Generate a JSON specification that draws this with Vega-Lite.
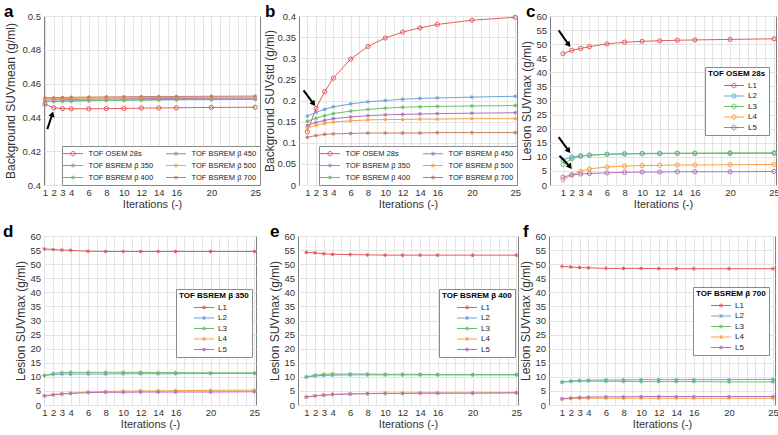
{
"$schema": "https://vega.github.io/schema/vega-lite/v6.json",
"padding": {"left": 2, "top": 2, "right": 0, "bottom": 0},
"background": "white",
"resolve": {"scale": {"x": "independent", "y": "independent", "color": "independent"}, "legend": {"color": "independent"}},
"config": {
 "font": "Liberation Sans",
 "view": {"stroke": "#7f7f7f", "strokeWidth": 1},
 "axis": {"domain": false, "ticks": false, "grid": true, "gridColor": "#e4e4e4", "gridWidth": 1, "labelFont": "Liberation Sans", "labelFontSize": 9.5, "labelColor": "#333333", "titleFont": "Liberation Sans", "titleFontWeight": "normal", "titleColor": "#333333"},
 "axisX": {"titleFontSize": 11, "labelPadding": 2, "titlePadding": 2},
 "axisY": {"titleFontSize": 12, "labelPadding": 3.5},
 "title": {"fontSize": 17, "fontWeight": "bold", "anchor": "start", "frame": "group", "offset": -10, "color": "#000000"},
 "legend": {"labelFont": "Liberation Sans", "titleFont": "Liberation Sans", "labelColor": "#222222", "strokeColor": "#8a8a8a", "fillColor": "white", "padding": 3, "symbolStrokeWidth": 1, "symbolSize": 64, "labelLimit": 200, "cornerRadius": 0}
},
"datasets": {
 "a": [
  {"s":"TOF OSEM 28s","i":1,"v":0.4478},{"s":"TOF OSEM 28s","i":2,"v":0.4457},{"s":"TOF OSEM 28s","i":3,"v":0.4452},{"s":"TOF OSEM 28s","i":4,"v":0.4451},{"s":"TOF OSEM 28s","i":6,"v":0.4451},{"s":"TOF OSEM 28s","i":8,"v":0.4452},{"s":"TOF OSEM 28s","i":10,"v":0.4453},{"s":"TOF OSEM 28s","i":12,"v":0.4455},{"s":"TOF OSEM 28s","i":14,"v":0.4456},{"s":"TOF OSEM 28s","i":16,"v":0.4457},{"s":"TOF OSEM 28s","i":20,"v":0.4459},{"s":"TOF OSEM 28s","i":25,"v":0.4460},
  {"s":"TOF BSREM β 350","i":1,"v":0.4495},{"s":"TOF BSREM β 350","i":2,"v":0.4496},{"s":"TOF BSREM β 350","i":3,"v":0.4497},{"s":"TOF BSREM β 350","i":4,"v":0.4498},{"s":"TOF BSREM β 350","i":6,"v":0.4500},{"s":"TOF BSREM β 350","i":8,"v":0.4502},{"s":"TOF BSREM β 350","i":10,"v":0.4503},{"s":"TOF BSREM β 350","i":12,"v":0.4504},{"s":"TOF BSREM β 350","i":14,"v":0.4505},{"s":"TOF BSREM β 350","i":16,"v":0.4506},{"s":"TOF BSREM β 350","i":20,"v":0.4507},{"s":"TOF BSREM β 350","i":25,"v":0.4508},
  {"s":"TOF BSREM β 400","i":1,"v":0.4493},{"s":"TOF BSREM β 400","i":2,"v":0.4494},{"s":"TOF BSREM β 400","i":3,"v":0.4495},{"s":"TOF BSREM β 400","i":4,"v":0.4496},{"s":"TOF BSREM β 400","i":6,"v":0.4498},{"s":"TOF BSREM β 400","i":8,"v":0.4500},{"s":"TOF BSREM β 400","i":10,"v":0.4501},{"s":"TOF BSREM β 400","i":12,"v":0.4502},{"s":"TOF BSREM β 400","i":14,"v":0.4503},{"s":"TOF BSREM β 400","i":16,"v":0.4504},{"s":"TOF BSREM β 400","i":20,"v":0.4505},{"s":"TOF BSREM β 400","i":25,"v":0.4506},
  {"s":"TOF BSREM β 450","i":1,"v":0.4503},{"s":"TOF BSREM β 450","i":2,"v":0.4504},{"s":"TOF BSREM β 450","i":3,"v":0.4505},{"s":"TOF BSREM β 450","i":4,"v":0.4506},{"s":"TOF BSREM β 450","i":6,"v":0.4508},{"s":"TOF BSREM β 450","i":8,"v":0.4509},{"s":"TOF BSREM β 450","i":10,"v":0.4510},{"s":"TOF BSREM β 450","i":12,"v":0.4511},{"s":"TOF BSREM β 450","i":14,"v":0.4512},{"s":"TOF BSREM β 450","i":16,"v":0.4512},{"s":"TOF BSREM β 450","i":20,"v":0.4513},{"s":"TOF BSREM β 450","i":25,"v":0.4514},
  {"s":"TOF BSREM β 500","i":1,"v":0.4510},{"s":"TOF BSREM β 500","i":2,"v":0.4511},{"s":"TOF BSREM β 500","i":3,"v":0.4512},{"s":"TOF BSREM β 500","i":4,"v":0.4513},{"s":"TOF BSREM β 500","i":6,"v":0.4514},{"s":"TOF BSREM β 500","i":8,"v":0.4515},{"s":"TOF BSREM β 500","i":10,"v":0.4516},{"s":"TOF BSREM β 500","i":12,"v":0.4517},{"s":"TOF BSREM β 500","i":14,"v":0.4518},{"s":"TOF BSREM β 500","i":16,"v":0.4518},{"s":"TOF BSREM β 500","i":20,"v":0.4519},{"s":"TOF BSREM β 500","i":25,"v":0.4520},
  {"s":"TOF BSREM β 700","i":1,"v":0.4516},{"s":"TOF BSREM β 700","i":2,"v":0.4517},{"s":"TOF BSREM β 700","i":3,"v":0.4518},{"s":"TOF BSREM β 700","i":4,"v":0.4519},{"s":"TOF BSREM β 700","i":6,"v":0.4520},{"s":"TOF BSREM β 700","i":8,"v":0.4521},{"s":"TOF BSREM β 700","i":10,"v":0.4522},{"s":"TOF BSREM β 700","i":12,"v":0.4523},{"s":"TOF BSREM β 700","i":14,"v":0.4524},{"s":"TOF BSREM β 700","i":16,"v":0.4524},{"s":"TOF BSREM β 700","i":20,"v":0.4525},{"s":"TOF BSREM β 700","i":25,"v":0.4526}
 ],
 "b": [
  {"s":"TOF OSEM 28s","i":1,"v":0.126},{"s":"TOF OSEM 28s","i":2,"v":0.181},{"s":"TOF OSEM 28s","i":3,"v":0.221},{"s":"TOF OSEM 28s","i":4,"v":0.253},{"s":"TOF OSEM 28s","i":6,"v":0.298},{"s":"TOF OSEM 28s","i":8,"v":0.328},{"s":"TOF OSEM 28s","i":10,"v":0.348},{"s":"TOF OSEM 28s","i":12,"v":0.362},{"s":"TOF OSEM 28s","i":14,"v":0.372},{"s":"TOF OSEM 28s","i":16,"v":0.380},{"s":"TOF OSEM 28s","i":20,"v":0.390},{"s":"TOF OSEM 28s","i":25,"v":0.397},
  {"s":"TOF BSREM β 350","i":1,"v":0.163},{"s":"TOF BSREM β 350","i":2,"v":0.172},{"s":"TOF BSREM β 350","i":3,"v":0.179},{"s":"TOF BSREM β 350","i":4,"v":0.185},{"s":"TOF BSREM β 350","i":6,"v":0.192},{"s":"TOF BSREM β 350","i":8,"v":0.197},{"s":"TOF BSREM β 350","i":10,"v":0.200},{"s":"TOF BSREM β 350","i":12,"v":0.203},{"s":"TOF BSREM β 350","i":14,"v":0.205},{"s":"TOF BSREM β 350","i":16,"v":0.206},{"s":"TOF BSREM β 350","i":20,"v":0.208},{"s":"TOF BSREM β 350","i":25,"v":0.210},
  {"s":"TOF BSREM β 400","i":1,"v":0.151},{"s":"TOF BSREM β 400","i":2,"v":0.158},{"s":"TOF BSREM β 400","i":3,"v":0.164},{"s":"TOF BSREM β 400","i":4,"v":0.169},{"s":"TOF BSREM β 400","i":6,"v":0.175},{"s":"TOF BSREM β 400","i":8,"v":0.179},{"s":"TOF BSREM β 400","i":10,"v":0.182},{"s":"TOF BSREM β 400","i":12,"v":0.184},{"s":"TOF BSREM β 400","i":14,"v":0.185},{"s":"TOF BSREM β 400","i":16,"v":0.186},{"s":"TOF BSREM β 400","i":20,"v":0.187},{"s":"TOF BSREM β 400","i":25,"v":0.188},
  {"s":"TOF BSREM β 450","i":1,"v":0.141},{"s":"TOF BSREM β 450","i":2,"v":0.148},{"s":"TOF BSREM β 450","i":3,"v":0.153},{"s":"TOF BSREM β 450","i":4,"v":0.157},{"s":"TOF BSREM β 450","i":6,"v":0.161},{"s":"TOF BSREM β 450","i":8,"v":0.164},{"s":"TOF BSREM β 450","i":10,"v":0.166},{"s":"TOF BSREM β 450","i":12,"v":0.167},{"s":"TOF BSREM β 450","i":14,"v":0.168},{"s":"TOF BSREM β 450","i":16,"v":0.169},{"s":"TOF BSREM β 450","i":20,"v":0.170},{"s":"TOF BSREM β 450","i":25,"v":0.171},
  {"s":"TOF BSREM β 500","i":1,"v":0.135},{"s":"TOF BSREM β 500","i":2,"v":0.141},{"s":"TOF BSREM β 500","i":3,"v":0.146},{"s":"TOF BSREM β 500","i":4,"v":0.149},{"s":"TOF BSREM β 500","i":6,"v":0.152},{"s":"TOF BSREM β 500","i":8,"v":0.154},{"s":"TOF BSREM β 500","i":10,"v":0.155},{"s":"TOF BSREM β 500","i":12,"v":0.155},{"s":"TOF BSREM β 500","i":14,"v":0.156},{"s":"TOF BSREM β 500","i":16,"v":0.156},{"s":"TOF BSREM β 500","i":20,"v":0.157},{"s":"TOF BSREM β 500","i":25,"v":0.157},
  {"s":"TOF BSREM β 700","i":1,"v":0.113},{"s":"TOF BSREM β 700","i":2,"v":0.117},{"s":"TOF BSREM β 700","i":3,"v":0.120},{"s":"TOF BSREM β 700","i":4,"v":0.121},{"s":"TOF BSREM β 700","i":6,"v":0.122},{"s":"TOF BSREM β 700","i":8,"v":0.123},{"s":"TOF BSREM β 700","i":10,"v":0.123},{"s":"TOF BSREM β 700","i":12,"v":0.123},{"s":"TOF BSREM β 700","i":14,"v":0.123},{"s":"TOF BSREM β 700","i":16,"v":0.124},{"s":"TOF BSREM β 700","i":20,"v":0.124},{"s":"TOF BSREM β 700","i":25,"v":0.124}
 ],
 "c": [
  {"s":"L1","i":1,"v":46.6},{"s":"L1","i":2,"v":47.8},{"s":"L1","i":3,"v":48.5},{"s":"L1","i":4,"v":49.1},{"s":"L1","i":6,"v":50.1},{"s":"L1","i":8,"v":50.7},{"s":"L1","i":10,"v":51.0},{"s":"L1","i":12,"v":51.2},{"s":"L1","i":14,"v":51.4},{"s":"L1","i":16,"v":51.5},{"s":"L1","i":20,"v":51.7},{"s":"L1","i":25,"v":51.9},
  {"s":"L2","i":1,"v":8.8},{"s":"L2","i":2,"v":10.0},{"s":"L2","i":3,"v":10.4},{"s":"L2","i":4,"v":10.6},{"s":"L2","i":6,"v":10.9},{"s":"L2","i":8,"v":11.0},{"s":"L2","i":10,"v":11.1},{"s":"L2","i":12,"v":11.1},{"s":"L2","i":14,"v":11.2},{"s":"L2","i":16,"v":11.2},{"s":"L2","i":20,"v":11.2},{"s":"L2","i":25,"v":11.3},
  {"s":"L3","i":1,"v":7.3},{"s":"L3","i":2,"v":9.3},{"s":"L3","i":3,"v":10.2},{"s":"L3","i":4,"v":10.6},{"s":"L3","i":6,"v":10.9},{"s":"L3","i":8,"v":11.1},{"s":"L3","i":10,"v":11.2},{"s":"L3","i":12,"v":11.3},{"s":"L3","i":14,"v":11.3},{"s":"L3","i":16,"v":11.3},{"s":"L3","i":20,"v":11.4},{"s":"L3","i":25,"v":11.4},
  {"s":"L4","i":1,"v":1.9},{"s":"L4","i":2,"v":3.5},{"s":"L4","i":3,"v":4.9},{"s":"L4","i":4,"v":5.7},{"s":"L4","i":6,"v":6.4},{"s":"L4","i":8,"v":6.7},{"s":"L4","i":10,"v":6.9},{"s":"L4","i":12,"v":7.0},{"s":"L4","i":14,"v":7.1},{"s":"L4","i":16,"v":7.1},{"s":"L4","i":20,"v":7.2},{"s":"L4","i":25,"v":7.3},
  {"s":"L5","i":1,"v":2.8},{"s":"L5","i":2,"v":3.6},{"s":"L5","i":3,"v":3.9},{"s":"L5","i":4,"v":4.1},{"s":"L5","i":6,"v":4.3},{"s":"L5","i":8,"v":4.5},{"s":"L5","i":10,"v":4.6},{"s":"L5","i":12,"v":4.6},{"s":"L5","i":14,"v":4.7},{"s":"L5","i":16,"v":4.7},{"s":"L5","i":20,"v":4.7},{"s":"L5","i":25,"v":4.8}
 ],
 "d": [
  {"s":"L1","i":1,"v":55.4},{"s":"L1","i":2,"v":55.2},{"s":"L1","i":3,"v":55.0},{"s":"L1","i":4,"v":54.9},{"s":"L1","i":6,"v":54.6},{"s":"L1","i":8,"v":54.5},{"s":"L1","i":10,"v":54.5},{"s":"L1","i":12,"v":54.5},{"s":"L1","i":14,"v":54.5},{"s":"L1","i":16,"v":54.5},{"s":"L1","i":20,"v":54.5},{"s":"L1","i":25,"v":54.5},
  {"s":"L2","i":1,"v":10.5},{"s":"L2","i":2,"v":10.8},{"s":"L2","i":3,"v":11.0},{"s":"L2","i":4,"v":11.0},{"s":"L2","i":6,"v":11.0},{"s":"L2","i":8,"v":11.0},{"s":"L2","i":10,"v":11.1},{"s":"L2","i":12,"v":11.1},{"s":"L2","i":14,"v":11.1},{"s":"L2","i":16,"v":11.1},{"s":"L2","i":20,"v":11.2},{"s":"L2","i":25,"v":11.2},
  {"s":"L3","i":1,"v":10.4},{"s":"L3","i":2,"v":11.2},{"s":"L3","i":3,"v":11.5},{"s":"L3","i":4,"v":11.6},{"s":"L3","i":6,"v":11.6},{"s":"L3","i":8,"v":11.6},{"s":"L3","i":10,"v":11.6},{"s":"L3","i":12,"v":11.6},{"s":"L3","i":14,"v":11.5},{"s":"L3","i":16,"v":11.5},{"s":"L3","i":20,"v":11.4},{"s":"L3","i":25,"v":11.4},
  {"s":"L4","i":1,"v":3.3},{"s":"L4","i":2,"v":3.7},{"s":"L4","i":3,"v":4.0},{"s":"L4","i":4,"v":4.2},{"s":"L4","i":6,"v":4.6},{"s":"L4","i":8,"v":4.8},{"s":"L4","i":10,"v":4.9},{"s":"L4","i":12,"v":5.0},{"s":"L4","i":14,"v":5.0},{"s":"L4","i":16,"v":5.1},{"s":"L4","i":20,"v":5.2},{"s":"L4","i":25,"v":5.3},
  {"s":"L5","i":1,"v":3.2},{"s":"L5","i":2,"v":3.6},{"s":"L5","i":3,"v":3.9},{"s":"L5","i":4,"v":4.1},{"s":"L5","i":6,"v":4.4},{"s":"L5","i":8,"v":4.5},{"s":"L5","i":10,"v":4.5},{"s":"L5","i":12,"v":4.6},{"s":"L5","i":14,"v":4.6},{"s":"L5","i":16,"v":4.6},{"s":"L5","i":20,"v":4.6},{"s":"L5","i":25,"v":4.7}
 ],
 "e": [
  {"s":"L1","i":1,"v":54.2},{"s":"L1","i":2,"v":54.0},{"s":"L1","i":3,"v":53.7},{"s":"L1","i":4,"v":53.5},{"s":"L1","i":6,"v":53.4},{"s":"L1","i":8,"v":53.3},{"s":"L1","i":10,"v":53.2},{"s":"L1","i":12,"v":53.2},{"s":"L1","i":14,"v":53.2},{"s":"L1","i":16,"v":53.2},{"s":"L1","i":20,"v":53.2},{"s":"L1","i":25,"v":53.2},
  {"s":"L2","i":1,"v":9.9},{"s":"L2","i":2,"v":10.3},{"s":"L2","i":3,"v":10.5},{"s":"L2","i":4,"v":10.6},{"s":"L2","i":6,"v":10.7},{"s":"L2","i":8,"v":10.7},{"s":"L2","i":10,"v":10.7},{"s":"L2","i":12,"v":10.7},{"s":"L2","i":14,"v":10.7},{"s":"L2","i":16,"v":10.7},{"s":"L2","i":20,"v":10.7},{"s":"L2","i":25,"v":10.7},
  {"s":"L3","i":1,"v":10.0},{"s":"L3","i":2,"v":10.6},{"s":"L3","i":3,"v":10.9},{"s":"L3","i":4,"v":11.0},{"s":"L3","i":6,"v":11.0},{"s":"L3","i":8,"v":11.0},{"s":"L3","i":10,"v":10.9},{"s":"L3","i":12,"v":10.9},{"s":"L3","i":14,"v":10.9},{"s":"L3","i":16,"v":10.8},{"s":"L3","i":20,"v":10.8},{"s":"L3","i":25,"v":10.8},
  {"s":"L4","i":1,"v":2.9},{"s":"L4","i":2,"v":3.3},{"s":"L4","i":3,"v":3.6},{"s":"L4","i":4,"v":3.8},{"s":"L4","i":6,"v":4.0},{"s":"L4","i":8,"v":4.1},{"s":"L4","i":10,"v":4.2},{"s":"L4","i":12,"v":4.2},{"s":"L4","i":14,"v":4.3},{"s":"L4","i":16,"v":4.3},{"s":"L4","i":20,"v":4.3},{"s":"L4","i":25,"v":4.4},
  {"s":"L5","i":1,"v":2.8},{"s":"L5","i":2,"v":3.2},{"s":"L5","i":3,"v":3.5},{"s":"L5","i":4,"v":3.7},{"s":"L5","i":6,"v":3.9},{"s":"L5","i":8,"v":4.0},{"s":"L5","i":10,"v":4.1},{"s":"L5","i":12,"v":4.1},{"s":"L5","i":14,"v":4.2},{"s":"L5","i":16,"v":4.2},{"s":"L5","i":20,"v":4.2},{"s":"L5","i":25,"v":4.3}
 ],
 "f": [
  {"s":"L1","i":1,"v":49.2},{"s":"L1","i":2,"v":49.0},{"s":"L1","i":3,"v":48.8},{"s":"L1","i":4,"v":48.7},{"s":"L1","i":6,"v":48.5},{"s":"L1","i":8,"v":48.5},{"s":"L1","i":10,"v":48.5},{"s":"L1","i":12,"v":48.4},{"s":"L1","i":14,"v":48.4},{"s":"L1","i":16,"v":48.4},{"s":"L1","i":20,"v":48.4},{"s":"L1","i":25,"v":48.4},
  {"s":"L2","i":1,"v":8.1},{"s":"L2","i":2,"v":8.5},{"s":"L2","i":3,"v":8.7},{"s":"L2","i":4,"v":8.8},{"s":"L2","i":6,"v":8.9},{"s":"L2","i":8,"v":8.9},{"s":"L2","i":10,"v":9.0},{"s":"L2","i":12,"v":9.0},{"s":"L2","i":14,"v":9.0},{"s":"L2","i":16,"v":9.0},{"s":"L2","i":20,"v":9.0},{"s":"L2","i":25,"v":9.1},
  {"s":"L3","i":1,"v":8.1},{"s":"L3","i":2,"v":8.4},{"s":"L3","i":3,"v":8.5},{"s":"L3","i":4,"v":8.5},{"s":"L3","i":6,"v":8.4},{"s":"L3","i":8,"v":8.4},{"s":"L3","i":10,"v":8.3},{"s":"L3","i":12,"v":8.3},{"s":"L3","i":14,"v":8.3},{"s":"L3","i":16,"v":8.3},{"s":"L3","i":20,"v":8.2},{"s":"L3","i":25,"v":8.2},
  {"s":"L4","i":1,"v":2.1},{"s":"L4","i":2,"v":2.3},{"s":"L4","i":3,"v":2.4},{"s":"L4","i":4,"v":2.4},{"s":"L4","i":6,"v":2.4},{"s":"L4","i":8,"v":2.4},{"s":"L4","i":10,"v":2.4},{"s":"L4","i":12,"v":2.4},{"s":"L4","i":14,"v":2.4},{"s":"L4","i":16,"v":2.4},{"s":"L4","i":20,"v":2.4},{"s":"L4","i":25,"v":2.4},
  {"s":"L5","i":1,"v":2.2},{"s":"L5","i":2,"v":2.5},{"s":"L5","i":3,"v":2.7},{"s":"L5","i":4,"v":2.8},{"s":"L5","i":6,"v":2.9},{"s":"L5","i":8,"v":2.9},{"s":"L5","i":10,"v":3.0},{"s":"L5","i":12,"v":3.0},{"s":"L5","i":14,"v":3.0},{"s":"L5","i":16,"v":3.0},{"s":"L5","i":20,"v":3.0},{"s":"L5","i":25,"v":3.0}
 ],
 "arrows": [
  {"p":"a","i":1.84,"v":0.4420,"i2":1.27,"v2":0.4331},
  {"p":"b","i":1.72,"v":0.192,"i2":0.57,"v2":0.224},
  {"p":"c","i":1.65,"v":49.8,"i2":0.51,"v2":54.9},
  {"p":"c","i":1.65,"v":12.1,"i2":0.51,"v2":17.0},
  {"p":"c","i":1.8,"v":6.5,"i2":0.6,"v2":10.4}
 ]
},
"columns": 1,
"align": "none",
"spacing": 12,
"concat": [
 {"spacing": 39, "bounds": "flush",
  "resolve": {"scale": {"x": "independent", "y": "independent", "color": "independent"}, "legend": {"color": "independent"}},
  "hconcat": [
  {"title": {"text": "a", "dx": -40}, "width": 216, "height": 169, "data": {"name": "a"},
   "encoding": {
    "x": {"field": "i", "type": "quantitative", "title": "Iterations (-)", "scale": {"domain": [0.89, 25.55], "nice": false, "zero": false},
          "axis": {"values": [1,2,3,4,5,6,7,8,9,10,11,12,13,14,15,16,17,18,19,20,21,22,23,24,25], "labelExpr": "indexof([1,2,3,4,6,8,10,12,14,16,20,25], datum.value) >= 0 ? datum.label : ''", "labelFlush": false, "labelOverlap": false}},
    "y": {"field": "v", "type": "quantitative", "title": "Background SUVmean (g/ml)", "scale": {"domain": [0.4, 0.5], "nice": false, "zero": false},
          "axis": {"values": [0.4,0.42,0.44,0.46,0.48,0.5], "format": "~g", "minExtent": 24, "maxExtent": 24, "titlePadding": 3}},
    "color": {"field": "s", "type": "nominal",
      "scale": {"domain": ["TOF OSEM 28s","TOF BSREM β 350","TOF BSREM β 400","TOF BSREM β 450","TOF BSREM β 500","TOF BSREM β 700"], "range": ["#e65a5c","#6aa3d5","#6cbf6a","#ae74bf","#fba046","#c08060"]},
      "legend": {"title": null, "orient": "bottom-right", "offset": 0, "columns": 2, "columnPadding": 10, "rowPadding": 3, "labelFontSize": 7.5, "symbolOffset": 3.5, "labelOffset": 11,
        "symbolType": "M-2.5,0L2.5,0M0.55,0A0.55,0.55 0 1 1 -0.55,0A0.55,0.55 0 1 1 0.55,0",
        "encode": {"symbols": {"update": {"shape": {"signal": "datum.value === 'TOF OSEM 28s' ? 'M-2.5,0L2.5,0M0.55,0A0.55,0.55 0 1 1 -0.55,0A0.55,0.55 0 1 1 0.55,0' : 'M-2.5,0L2.5,0M0,-0.5L0,0.5M-0.36,-0.36L0.36,0.36M-0.36,0.36L0.36,-0.36'"}, "fill": {"value": "transparent"}}}}}}
   },
   "layer": [
    {"mark": {"type": "line", "strokeWidth": 1}},
    {"transform": [{"filter": "datum.s === 'TOF OSEM 28s'"}], "mark": {"type": "point", "shape": "circle", "filled": false, "size": 18, "strokeWidth": 1, "opacity": 1}},
    {"transform": [{"filter": "datum.s !== 'TOF OSEM 28s'"}], "mark": {"type": "point", "shape": "M-1,0L1,0M0,-1L0,1M-0.7,-0.7L0.7,0.7M-0.7,0.7L0.7,-0.7", "filled": false, "size": 14, "strokeWidth": 1, "opacity": 1}},
    {"data": {"name": "arrows"}, "transform": [{"filter": "datum.p === 'a'"}], "mark": {"type": "rule", "strokeWidth": 2}, "encoding": {"x2": {"field": "i2"}, "y2": {"field": "v2"}, "color": {"value": "black"}}},
    {"data": {"name": "arrows"}, "transform": [{"filter": "datum.p === 'a'"}], "mark": {"type": "point", "shape": "triangle-up", "filled": true, "size": 40, "angle": 18, "opacity": 1}, "encoding": {"color": {"value": "black"}}}
   ]
  },
  {"spacing": 33, "bounds": "flush",
   "resolve": {"scale": {"x": "independent", "y": "independent", "color": "independent"}, "legend": {"color": "independent"}},
   "hconcat": [
  {"title": {"text": "b", "dx": -34}, "width": 218, "height": 169, "data": {"name": "b"},
   "encoding": {
    "x": {"field": "i", "type": "quantitative", "title": "Iterations (-)", "scale": {"domain": [0.04, 25.2], "nice": false, "zero": false},
          "axis": {"values": [1,2,3,4,5,6,7,8,9,10,11,12,13,14,15,16,17,18,19,20,21,22,23,24,25], "labelExpr": "indexof([1,2,3,4,6,8,10,12,14,16,20,25], datum.value) >= 0 ? datum.label : ''", "labelFlush": false, "labelOverlap": false}},
    "y": {"field": "v", "type": "quantitative", "title": "Background SUVstd (g/ml)", "scale": {"domain": [0, 0.4], "nice": false, "zero": false},
          "axis": {"values": [0,0.05,0.1,0.15,0.2,0.25,0.3,0.35,0.4], "format": "~g", "minExtent": 22, "maxExtent": 22, "titlePadding": 1}},
    "color": {"field": "s", "type": "nominal",
      "scale": {"domain": ["TOF OSEM 28s","TOF BSREM β 350","TOF BSREM β 400","TOF BSREM β 450","TOF BSREM β 500","TOF BSREM β 700"], "range": ["#e65a5c","#6aa3d5","#6cbf6a","#ae74bf","#fba046","#c08060"]},
      "legend": {"title": null, "orient": "bottom-right", "offset": 0, "columns": 2, "columnPadding": 10, "rowPadding": 3, "labelFontSize": 7.5, "symbolOffset": 3.5, "labelOffset": 11,
        "symbolType": "M-2.5,0L2.5,0M0.55,0A0.55,0.55 0 1 1 -0.55,0A0.55,0.55 0 1 1 0.55,0",
        "encode": {"symbols": {"update": {"shape": {"signal": "datum.value === 'TOF OSEM 28s' ? 'M-2.5,0L2.5,0M0.55,0A0.55,0.55 0 1 1 -0.55,0A0.55,0.55 0 1 1 0.55,0' : 'M-2.5,0L2.5,0M0,-0.5L0,0.5M-0.36,-0.36L0.36,0.36M-0.36,0.36L0.36,-0.36'"}, "fill": {"value": "transparent"}}}}}}
   },
   "layer": [
    {"mark": {"type": "line", "strokeWidth": 1}},
    {"transform": [{"filter": "datum.s === 'TOF OSEM 28s'"}], "mark": {"type": "point", "shape": "circle", "filled": false, "size": 18, "strokeWidth": 1, "opacity": 1}},
    {"transform": [{"filter": "datum.s !== 'TOF OSEM 28s'"}], "mark": {"type": "point", "shape": "M-1,0L1,0M0,-1L0,1M-0.7,-0.7L0.7,0.7M-0.7,0.7L0.7,-0.7", "filled": false, "size": 14, "strokeWidth": 1, "opacity": 1}},
    {"data": {"name": "arrows"}, "transform": [{"filter": "datum.p === 'b'"}], "mark": {"type": "rule", "strokeWidth": 2}, "encoding": {"x2": {"field": "i2"}, "y2": {"field": "v2"}, "color": {"value": "black"}}},
    {"data": {"name": "arrows"}, "transform": [{"filter": "datum.p === 'b'"}], "mark": {"type": "point", "shape": "triangle-up", "filled": true, "size": 40, "angle": 143, "opacity": 1}, "encoding": {"color": {"value": "black"}}}
   ]
  },
  {"title": {"text": "c", "dx": -24}, "width": 226, "height": 169, "data": {"name": "c"},
   "encoding": {
    "x": {"field": "i", "type": "quantitative", "title": "Iterations (-)", "scale": {"domain": [-0.48, 25.23], "nice": false, "zero": false},
          "axis": {"values": [1,2,3,4,5,6,7,8,9,10,11,12,13,14,15,16,17,18,19,20,21,22,23,24,25], "labelExpr": "indexof([1,2,3,4,6,8,10,12,14,16,20,25], datum.value) >= 0 ? datum.label : ''", "labelFlush": false, "labelOverlap": false}},
    "y": {"field": "v", "type": "quantitative", "title": "Lesion SUVmax (g/ml)", "scale": {"domain": [0, 60], "nice": false, "zero": false},
          "axis": {"values": [0,5,10,15,20,25,30,35,40,45,50,55,60], "minExtent": 14, "maxExtent": 14, "titlePadding": 3}},
    "color": {"field": "s", "type": "nominal",
      "scale": {"domain": ["L1","L2","L3","L4","L5"], "range": ["#e65a5c","#6aa3d5","#6cbf6a","#fba046","#ae74bf"]},
      "legend": {"title": "TOF OSEM 28s", "titleFontSize": 8, "titleFontWeight": "bold", "titleColor": "#000000", "titlePadding": 3, "orient": "none", "legendX": 155, "legendY": 51, "symbolOffset": 21.5, "labelOffset": 9.5, "labelFontSize": 8, "rowPadding": 1.5,
        "symbolType": "M-2.5,0L2.5,0M0.55,0A0.55,0.55 0 1 1 -0.55,0A0.55,0.55 0 1 1 0.55,0",
        "encode": {"symbols": {"update": {"fill": {"value": "transparent"}}}}}}
   },
   "layer": [
    {"mark": {"type": "line", "strokeWidth": 1}},
    {"mark": {"type": "point", "shape": "circle", "filled": false, "size": 18, "strokeWidth": 1, "opacity": 1}},
    {"data": {"name": "arrows"}, "transform": [{"filter": "datum.p === 'c'"}], "mark": {"type": "rule", "strokeWidth": 2}, "encoding": {"x2": {"field": "i2"}, "y2": {"field": "v2"}, "color": {"value": "black"}}},
    {"data": {"name": "arrows"}, "transform": [{"filter": "datum.p === 'c'"}], "mark": {"type": "point", "shape": "triangle-up", "filled": true, "size": 40, "angle": 143, "opacity": 1}, "encoding": {"color": {"value": "black"}}}
   ]
  }
  ]}
 ]},
 {"spacing": 42, "bounds": "flush",
  "resolve": {"scale": {"x": "independent", "y": "independent", "color": "independent"}, "legend": {"color": "independent"}},
  "hconcat": [
  {"title": {"text": "d", "dx": -41}, "width": 212, "height": 169, "data": {"name": "d"},
   "encoding": {
    "x": {"field": "i", "type": "quantitative", "title": "Iterations (-)", "scale": {"domain": [0.95, 25.19], "nice": false, "zero": false},
          "axis": {"values": [1,2,3,4,5,6,7,8,9,10,11,12,13,14,15,16,17,18,19,20,21,22,23,24,25], "labelExpr": "indexof([1,2,3,4,6,8,10,12,14,16,20,25], datum.value) >= 0 ? datum.label : ''", "labelFlush": false, "labelOverlap": false}},
    "y": {"field": "v", "type": "quantitative", "title": "Lesion SUVmax (g/ml)", "scale": {"domain": [0, 60], "nice": false, "zero": false},
          "axis": {"values": [0,5,10,15,20,25,30,35,40,45,50,55,60], "minExtent": 14, "maxExtent": 14, "titlePadding": 3}},
    "color": {"field": "s", "type": "nominal",
      "scale": {"domain": ["L1","L2","L3","L4","L5"], "range": ["#e65a5c","#6aa3d5","#6cbf6a","#fba046","#ae74bf"]},
      "legend": {"title": "TOF BSREM β 350", "titleFontSize": 8, "titleFontWeight": "bold", "titleColor": "#000000", "titlePadding": 3, "orient": "none", "legendX": 132, "legendY": 53, "symbolOffset": 20.5, "labelOffset": 9.5, "labelFontSize": 8, "rowPadding": 1.5,
        "symbolType": "M-2.5,0L2.5,0M0,-0.5L0,0.5M-0.36,-0.36L0.36,0.36M-0.36,0.36L0.36,-0.36",
        "encode": {"symbols": {"update": {"fill": {"value": "transparent"}}}}}}
   },
   "layer": [
    {"mark": {"type": "line", "strokeWidth": 1}},
    {"mark": {"type": "point", "shape": "M-1,0L1,0M0,-1L0,1M-0.7,-0.7L0.7,0.7M-0.7,0.7L0.7,-0.7", "filled": false, "size": 14, "strokeWidth": 1, "opacity": 1}}
   ]
  },
  {"spacing": 31, "bounds": "flush",
   "resolve": {"scale": {"x": "independent", "y": "independent", "color": "independent"}, "legend": {"color": "independent"}},
   "hconcat": [
   {"title": {"text": "e", "dx": -28}, "width": 220, "height": 169, "data": {"name": "e"},
    "encoding": {
     "x": {"field": "i", "type": "quantitative", "title": "Iterations (-)", "scale": {"domain": [0.05, 25.19], "nice": false, "zero": false},
           "axis": {"values": [1,2,3,4,5,6,7,8,9,10,11,12,13,14,15,16,17,18,19,20,21,22,23,24,25], "labelExpr": "indexof([1,2,3,4,6,8,10,12,14,16,20,25], datum.value) >= 0 ? datum.label : ''", "labelFlush": false, "labelOverlap": false}},
     "y": {"field": "v", "type": "quantitative", "title": "Lesion SUVmax (g/ml)", "scale": {"domain": [0, 60], "nice": false, "zero": false},
           "axis": {"values": [0,5,10,15,20,25,30,35,40,45,50,55,60], "minExtent": 14, "maxExtent": 14, "titlePadding": 3}},
     "color": {"field": "s", "type": "nominal",
       "scale": {"domain": ["L1","L2","L3","L4","L5"], "range": ["#e65a5c","#6aa3d5","#6cbf6a","#fba046","#ae74bf"]},
       "legend": {"title": "TOF BSREM β 400", "titleFontSize": 8, "titleFontWeight": "bold", "titleColor": "#000000", "titlePadding": 3, "orient": "none", "legendX": 141, "legendY": 53, "symbolOffset": 20.5, "labelOffset": 9.5, "labelFontSize": 8, "rowPadding": 1.5,
         "symbolType": "M-2.5,0L2.5,0M0,-0.5L0,0.5M-0.36,-0.36L0.36,0.36M-0.36,0.36L0.36,-0.36",
         "encode": {"symbols": {"update": {"fill": {"value": "transparent"}}}}}}
    },
    "layer": [
     {"mark": {"type": "line", "strokeWidth": 1}},
     {"mark": {"type": "point", "shape": "M-1,0L1,0M0,-1L0,1M-0.7,-0.7L0.7,0.7M-0.7,0.7L0.7,-0.7", "filled": false, "size": 14, "strokeWidth": 1, "opacity": 1}}
    ]
   },
   {"title": {"text": "f", "dx": -26}, "width": 226, "height": 169, "data": {"name": "f"},
    "encoding": {
     "x": {"field": "i", "type": "quantitative", "title": "Iterations (-)", "scale": {"domain": [-0.48, 25.23], "nice": false, "zero": false},
           "axis": {"values": [1,2,3,4,5,6,7,8,9,10,11,12,13,14,15,16,17,18,19,20,21,22,23,24,25], "labelExpr": "indexof([1,2,3,4,6,8,10,12,14,16,20,25], datum.value) >= 0 ? datum.label : ''", "labelFlush": false, "labelOverlap": false}},
     "y": {"field": "v", "type": "quantitative", "title": "Lesion SUVmax (g/ml)", "scale": {"domain": [0, 60], "nice": false, "zero": false},
           "axis": {"values": [0,5,10,15,20,25,30,35,40,45,50,55,60], "minExtent": 14, "maxExtent": 14, "titlePadding": 3}},
     "color": {"field": "s", "type": "nominal",
       "scale": {"domain": ["L1","L2","L3","L4","L5"], "range": ["#e65a5c","#6aa3d5","#6cbf6a","#fba046","#ae74bf"]},
       "legend": {"title": "TOF BSREM β 700", "titleFontSize": 8, "titleFontWeight": "bold", "titleColor": "#000000", "titlePadding": 3, "orient": "none", "legendX": 144, "legendY": 51, "symbolOffset": 20.5, "labelOffset": 9.5, "labelFontSize": 8, "rowPadding": 1.5,
         "symbolType": "M-2.5,0L2.5,0M0,-0.5L0,0.5M-0.36,-0.36L0.36,0.36M-0.36,0.36L0.36,-0.36",
         "encode": {"symbols": {"update": {"fill": {"value": "transparent"}}}}}}
    },
    "layer": [
     {"mark": {"type": "line", "strokeWidth": 1}},
     {"mark": {"type": "point", "shape": "M-1,0L1,0M0,-1L0,1M-0.7,-0.7L0.7,0.7M-0.7,0.7L0.7,-0.7", "filled": false, "size": 14, "strokeWidth": 1, "opacity": 1}}
    ]
   }
  ]}
 ]}
]
}
